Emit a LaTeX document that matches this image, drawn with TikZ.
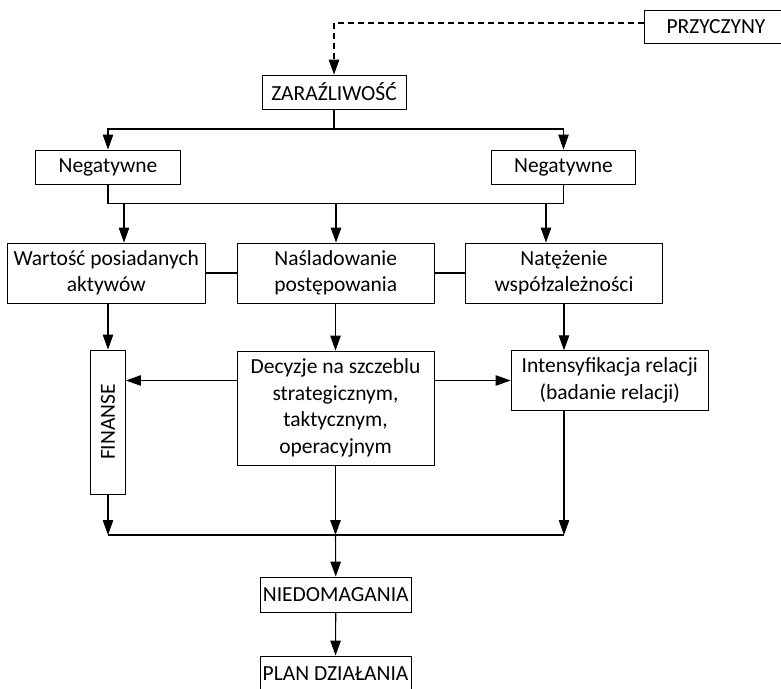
\documentclass[tikz,border=0pt]{standalone}
\usepackage{fontspec}
\setmainfont{Carlito}
\usetikzlibrary{arrows.meta}
\begin{document}
\begin{tikzpicture}[x=1pt,y=-1pt,
  box/.style={draw=black, line width=0.9pt, rectangle, inner sep=0pt, align=center,
    font=\fontsize{21.5}{26.5}\selectfont},
  conn/.style={line width=1.1pt},
  arr/.style={conn, -{Triangle[length=15pt,width=10.5pt]}},
  dashconn/.style={arr, dash pattern=on 6pt off 4pt},
]
\useasboundingbox (0,0) rectangle (781,688);
\clip (0,0) rectangle (781,688);

% boxes
\node[box, minimum width=144pt, minimum height=33pt] (przy) at (716,26.5) {PRZYCZYNY};
\node[box, minimum width=144pt, minimum height=34pt] (zar) at (334,92) {ZARAŹLIWOŚĆ};
\node[box, minimum width=144.5pt, minimum height=34pt] (neg1) at (108,167) {Negatywne};
\node[box, minimum width=144.5pt, minimum height=34pt] (neg2) at (563.5,167) {Negatywne};

\node[box, minimum width=197.5pt, minimum height=60pt] (war) at (106.25,273) {Wartość posiadanych\\aktywów};
\node[box, minimum width=196.5pt, minimum height=60pt] (nas) at (335.75,273) {Naśladowanie\\postępowania};
\node[box, minimum width=197pt, minimum height=60pt] (nat) at (564,273) {Natężenie\\współzależności};

\node[box, minimum width=35pt, minimum height=144pt] (fin) at (108,422) {\rotatebox{90}{FINANSE}};
\node[box, minimum width=197pt, minimum height=114pt] (dec) at (335.5,408) {Decyzje na szczeblu\\strategicznym,\\taktycznym,\\operacyjnym};
\node[box, minimum width=197.5pt, minimum height=59.5pt] (int) at (609.75,380.5) {Intensyfikacja relacji\\(badanie relacji)};

\node[box, minimum width=151.5pt, minimum height=35pt] (nie) at (335.75,594.5) {NIEDOMAGANIA};
\node[box, minimum width=151pt, minimum height=35pt] (plan) at (335.5,673.5) {PLAN DZIAŁANIA};

% causes feeding contagion
\draw[dashconn] ([yshift=3.5pt]przy.west) -| (zar.north);

% split into the two branches
\coordinate (tb) at (334,129);
\draw[arr] (zar.south) -- (tb) -| (neg1.north);
\draw[arr] (tb) -| (neg2.north);

% joining bar below the branches
\draw[conn] (neg1.south) -- ++(0,19) -| (neg2.south);
\coordinate (b1) at (124,203);
\coordinate (b2) at (336,203);
\coordinate (b3) at (546,203);
\draw[arr] (b1) -- (b1 |- war.north);
\draw[arr] (b2) -- (b2 |- nas.north);
\draw[arr] (b3) -- (b3 |- nat.north);

% links within the second row
\draw[conn] (war.east) -- (nas.west);
\draw[conn] (nas.east) -- (nat.west);

% second row to third row
\draw[arr] (fin.north |- war.south) -- (fin.north);
\draw[arr] (dec.north |- nas.south) -- (dec.north);
\draw[arr] (nat.south) -- (nat.south |- int.north);

% decisions to the sides
\draw[arr] (dec.west |- int.west) -- (fin.east |- int.west);
\draw[arr] (dec.east |- int.west) -- (int.west);

% collecting bar
\coordinate (bl) at (108,535);
\coordinate (bc) at (335.5,535);
\coordinate (br) at (564,535);
\draw[arr] (fin.south) -- (bl);
\draw[arr] (dec.south) -- (bc);
\draw[arr] (br |- int.south) -- (br);
\draw[conn] (bl) -- (br);

\draw[arr] (bc) -- (nie.north);
\draw[arr] (nie.south) -- (plan.north);
\end{tikzpicture}
\end{document}
